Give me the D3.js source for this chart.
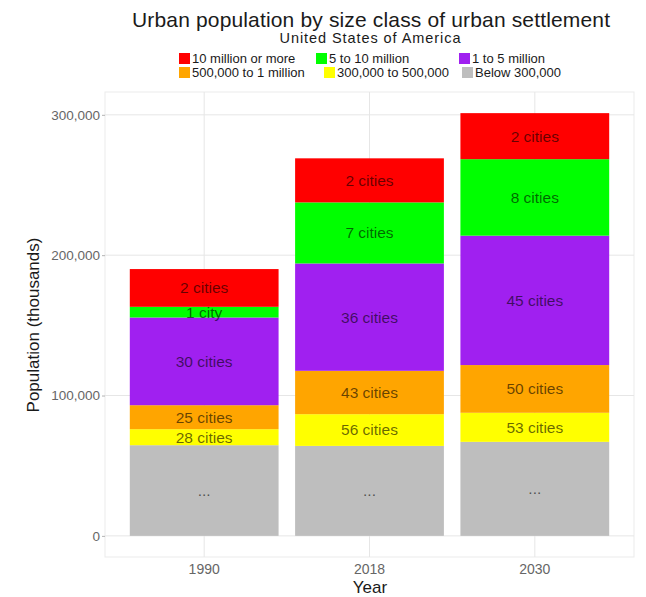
<!DOCTYPE html>
<html>
<head>
<meta charset="utf-8">
<script src="https://cdn.jsdelivr.net/npm/d3@7"></script>
<style>
  body { margin: 0; background: #fff; }
  text { font-family: "Liberation Sans", Arial, sans-serif; }
</style>
</head>
<body>
<script>
// data (population in thousands)
const years = ["1990", "2018", "2030"];
const classes = ["10 million or more", "5 to 10 million", "1 to 5 million",
                 "500,000 to 1 million", "300,000 to 500,000", "Below 300,000"];
const colorsList = ["#ff0000", "#00ff00", "#a020f0", "#ffa500", "#ffff00", "#bebebe"];
const tenPlus   = [26900, 31400, 32800];
const fiveToTen = [7600, 43500, 54500];
const oneToFive = [62500, 76500, 92200];
const halfToOne = [17100, 30900, 34000];
const threeToHalf = [11400, 22600, 20700];
const below300  = [64600, 64100, 67000];
const cityLabels = [
    ["2 cities", "2 cities", "2 cities"],
    ["1 city", "7 cities", "8 cities"],
    ["30 cities", "36 cities", "45 cities"],
    ["25 cities", "43 cities", "50 cities"],
    ["28 cities", "56 cities", "53 cities"],
    ["...", "...", "..."]
];
const yTicks = [0, 100000, 200000, 300000];

const seriesVals = [tenPlus, fiveToTen, oneToFive, halfToOne, threeToHalf, below300];

const width = 646, height = 597;
const panel = {left: 105, right: 634, top: 92, bottom: 557};

const svg = d3.select("body").append("svg")
    .attr("width", width)
    .attr("height", height);

const rows = years.map(function(yr, i) {
    const r = {year: yr};
    classes.forEach(function(c, j) { r[c] = seriesVals[j][i]; });
    return r;
});
// bottom of the stack first
const stackKeys = classes.slice().reverse();
const stacked = d3.stack().keys(stackKeys)(rows);

const maxTotal = d3.max(rows, d => d3.sum(classes, c => d[c]));
const pad = maxTotal * 0.05;

const x = d3.scaleBand()
    .domain(years)
    .range([panel.left, panel.right])
    .paddingInner(0.1)
    .paddingOuter(0.15);
const y = d3.scaleLinear()
    .domain([-pad, maxTotal + pad])
    .range([panel.bottom, panel.top]);
const color = d3.scaleOrdinal().domain(classes).range(colorsList);

// panel border + grid
svg.append("rect")
    .attr("x", panel.left).attr("y", panel.top)
    .attr("width", panel.right - panel.left)
    .attr("height", panel.bottom - panel.top)
    .attr("fill", "none")
    .attr("stroke", "#ebebeb");

svg.append("g").selectAll("line")
    .data(yTicks)
    .join("line")
    .attr("x1", panel.left).attr("x2", panel.right)
    .attr("y1", d => y(d)).attr("y2", d => y(d))
    .attr("stroke", "#e6e6e6");

svg.append("g").selectAll("line")
    .data(years)
    .join("line")
    .attr("x1", d => x(d) + x.bandwidth() / 2).attr("x2", d => x(d) + x.bandwidth() / 2)
    .attr("y1", panel.top).attr("y2", panel.bottom)
    .attr("stroke", "#e6e6e6");

// axes
const yAxis = d3.axisLeft(y)
    .tickValues(yTicks)
    .tickFormat(d3.format(","))
    .tickSize(3)
    .tickPadding(2);
const yg = svg.append("g")
    .attr("transform", "translate(" + panel.left + ",0)")
    .call(yAxis);
yg.select(".domain").remove();
yg.selectAll(".tick line").attr("stroke", "#b3b3b3");
yg.selectAll("text").attr("fill", "#666").style("font-size", "13.5px");

const xAxis = d3.axisBottom(x).tickSize(0).tickPadding(7);
const xg = svg.append("g")
    .attr("transform", "translate(0," + panel.bottom + ")")
    .call(xAxis);
xg.select(".domain").remove();
xg.selectAll("text").attr("fill", "#666").style("font-size", "14px");

// bars
const layers = svg.append("g").selectAll("g")
    .data(stacked)
    .join("g")
    .attr("fill", d => color(d.key));

layers.selectAll("rect")
    .data(d => d)
    .join("rect")
    .attr("x", d => x(d.data.year))
    .attr("width", x.bandwidth())
    .attr("y", d => y(d[1]))
    .attr("height", d => y(d[0]) - y(d[1]));

// segment labels
stacked.forEach(function(layer) {
    const j = classes.indexOf(layer.key);
    svg.append("g").selectAll("text")
        .data(layer)
        .join("text")
        .attr("x", d => x(d.data.year) + x.bandwidth() / 2)
        .attr("y", d => y((d[0] + d[1]) / 2))
        .attr("dy", "0.35em")
        .attr("text-anchor", "middle")
        .attr("fill", "#000")
        .attr("fill-opacity", 0.6)
        .style("font-size", "15.5px")
        .text((d, i) => cityLabels[j][i]);
});

// titles
svg.append("text")
    .attr("x", 371).attr("y", 27)
    .attr("text-anchor", "middle")
    .attr("textLength", 478)
    .attr("lengthAdjust", "spacing")
    .style("font-size", "21px")
    .attr("fill", "#1a1a1a")
    .text("Urban population by size class of urban settlement");
svg.append("text")
    .attr("x", 370).attr("y", 43)
    .attr("text-anchor", "middle")
    .attr("textLength", 181)
    .attr("lengthAdjust", "spacing")
    .style("font-size", "14.5px")
    .attr("fill", "#1a1a1a")
    .text("United States of America");

svg.append("text")
    .attr("x", 370).attr("y", 593)
    .attr("text-anchor", "middle")
    .style("font-size", "17px")
    .attr("fill", "#1a1a1a")
    .text("Year");
svg.append("text")
    .attr("transform", "translate(39,325) rotate(-90)")
    .attr("text-anchor", "middle")
    .style("font-size", "17px")
    .attr("fill", "#1a1a1a")
    .text("Population (thousands)");

// legend, 3 per row
const legendX = [179, 316, 459, 179, 324, 462];
const legend = svg.append("g").selectAll("g")
    .data(classes)
    .join("g")
    .attr("transform", (d, i) => "translate(" + legendX[i] + "," + (i < 3 ? 53 : 67) + ")");
legend.append("rect")
    .attr("width", 11).attr("height", 11)
    .attr("fill", d => color(d));
legend.append("text")
    .attr("x", 13).attr("y", 10)
    .style("font-size", "13px")
    .attr("fill", "#1a1a1a")
    .text(d => d);
</script>
</body>
</html>
